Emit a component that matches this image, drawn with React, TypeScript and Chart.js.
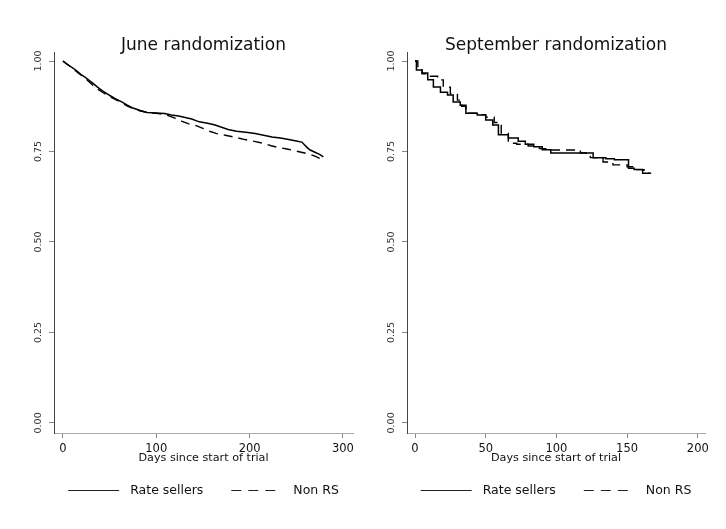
import React, { useEffect, useRef } from "react";
import { Chart, registerables } from "chart.js";

Chart.register(...registerables);

// ---------- DATA ----------
const panelTitles = ["June randomization", "September randomization"];
const seriesNames = ["Rate sellers", "Non RS"];
const xAxisTitle = "Days since start of trial";

const yTicks = [0, 0.25, 0.5, 0.75, 1];
const yTickLabels = ["0.00", "0.25", "0.50", "0.75", "1.00"];

const juneXTicks = [0, 100, 200, 300];
const juneXTickLabels = ["0", "100", "200", "300"];
const sepXTicks = [0, 50, 100, 150, 200];
const sepXTickLabels = ["0", "50", "100", "150", "200"];

// June randomization – Rate sellers (Kaplan–Meier survival)
const juneRSDays = [0, 3, 7, 11, 15, 19, 24, 28, 33, 37, 42, 47, 52, 57, 63, 69, 75, 82, 90, 109, 116, 124, 131, 138, 146, 155, 163, 170, 177, 186, 196, 206, 215, 224, 233, 242, 250, 256, 259, 262, 265, 270, 275, 279];
const juneRSSurv = [1.0, 0.994, 0.987, 0.98, 0.972, 0.963, 0.955, 0.947, 0.937, 0.928, 0.918, 0.91, 0.902, 0.895, 0.887, 0.878, 0.87, 0.864, 0.858, 0.855, 0.851, 0.848, 0.844, 0.84, 0.832, 0.828, 0.823, 0.817, 0.811, 0.806, 0.803, 0.8, 0.795, 0.79, 0.787, 0.783, 0.779, 0.776, 0.768, 0.76, 0.754, 0.748, 0.742, 0.735];

// June randomization – Non RS
const juneNonDays = [0, 4, 8, 12, 17, 22, 27, 32, 38, 44, 50, 56, 62, 68, 75, 83, 92, 102, 112, 120, 127, 134, 142, 150, 157, 164, 174, 185, 195, 205, 214, 223, 231, 240, 250, 259, 265, 270, 275, 279];
const juneNonSurv = [1.0, 0.992, 0.984, 0.976, 0.966, 0.956, 0.945, 0.933, 0.921, 0.911, 0.902, 0.894, 0.886, 0.877, 0.869, 0.862, 0.857, 0.855, 0.85, 0.842, 0.834, 0.827, 0.822, 0.814, 0.806, 0.8, 0.795, 0.789, 0.783, 0.778, 0.773, 0.766, 0.761, 0.757, 0.751, 0.746, 0.742, 0.737, 0.731, 0.725];

// September randomization – Rate sellers
const sepRSDays = [0, 1, 5, 9, 13, 18, 23, 27, 32, 36, 44, 50, 55, 59, 66, 73, 78, 84, 90, 96, 126, 135, 141, 151, 155, 161, 167];
const sepRSSurv = [1.0, 0.975, 0.967, 0.948, 0.928, 0.914, 0.906, 0.887, 0.878, 0.856, 0.851, 0.837, 0.823, 0.796, 0.787, 0.778, 0.77, 0.763, 0.755, 0.746, 0.733, 0.73, 0.727, 0.704, 0.7, 0.69, 0.69];

// September randomization – Non RS
const sepNonDays = [0, 2, 5, 10, 16, 20, 25, 30, 33, 36, 44, 50, 56, 61, 66, 72, 80, 88, 94, 117, 124, 133, 140, 150, 157, 162, 166];
const sepNonSurv = [1.0, 0.985, 0.965, 0.958, 0.948, 0.928, 0.91, 0.892, 0.875, 0.856, 0.852, 0.845, 0.83, 0.8, 0.773, 0.77, 0.765, 0.758, 0.754, 0.746, 0.733, 0.721, 0.713, 0.708, 0.7, 0.69, 0.69];

// ---------- STYLE ----------
const FONT = '"DejaVu Sans", "Liberation Sans", sans-serif';
const CANVAS_W = 363;
const CANVAS_H = 529;

type PanelProps = {
  left: number;
  title: string;
  rsDays: number[];
  rsSurv: number[];
  nonDays: number[];
  nonSurv: number[];
  xTicks: number[];
  xTickLabels: string[];
  xMin: number;
  xMax: number;
  yAxisWidth: number;
  padRight: number;
  stepped: boolean;
};

function Panel(p: PanelProps) {
  const ref = useRef<HTMLCanvasElement | null>(null);

  useEffect(() => {
    if (!ref.current) return;

    const decor = {
      id: "decor",
      afterDraw(chart: any) {
        const ctx = chart.ctx as CanvasRenderingContext2D;
        const ca = chart.chartArea;
        const cx = (ca.left + ca.right) / 2;
        ctx.save();
        ctx.fillStyle = "#111";
        ctx.font = `17px ${FONT}`;
        ctx.textAlign = "center";
        ctx.textBaseline = "alphabetic";
        ctx.fillText(p.title, cx, 50);

        // legend
        ctx.font = `12.5px ${FONT}`;
        const ds = chart.data.datasets;
        const widths = ds.map((d: any) => ctx.measureText(d.label).width);
        const lineLen = 51;
        const gapText = 11;
        const gapItem = 28;
        const total = lineLen * 2 + gapText * 2 + widths[0] + widths[1] + gapItem;
        let x = cx - total / 2;
        const ly = 490.5;
        ds.forEach((d: any, i: number) => {
          ctx.strokeStyle = "#222";
          ctx.lineWidth = 1;
          ctx.setLineDash(i === 1 ? [10, 7] : []);
          ctx.beginPath();
          ctx.moveTo(x, ly);
          ctx.lineTo(x + lineLen, ly);
          ctx.stroke();
          x += lineLen + gapText;
          ctx.setLineDash([]);
          ctx.textAlign = "left";
          ctx.textBaseline = "middle";
          ctx.fillStyle = "#111";
          ctx.fillText(d.label, x, ly);
          x += widths[i] + gapItem;
        });
        ctx.restore();
      },
    };

    const chart = new Chart(ref.current, {
      type: "line",
      data: {
        datasets: [
          {
            label: seriesNames[0],
            data: p.rsDays.map((d, i) => ({ x: d, y: p.rsSurv[i] })),
            borderColor: "#000",
            borderWidth: 1.5,
            stepped: p.stepped,
            tension: 0,
            pointRadius: 0,
            fill: false,
          },
          {
            label: seriesNames[1],
            data: p.nonDays.map((d, i) => ({ x: d, y: p.nonSurv[i] })),
            borderColor: "#000",
            borderWidth: 1.4,
            borderDash: [9, 6],
            stepped: p.stepped,
            tension: 0,
            pointRadius: 0,
            fill: false,
          },
        ],
      },
      options: {
        responsive: false,
        animation: false,
        devicePixelRatio: 1,
        layout: { padding: { top: 52, right: p.padRight, bottom: 64, left: 0 } },
        plugins: {
          legend: { display: false },
          title: { display: false },
          tooltip: { enabled: false },
        },
        scales: {
          x: {
            type: "linear",
            min: p.xMin,
            max: p.xMax,
            afterBuildTicks: (s: any) => {
              s.ticks = p.xTicks.map((v) => ({ value: v }));
            },
            afterFit: (s: any) => {
              s.height = 32;
            },
            ticks: {
              callback: (_v: any, i: number) => p.xTickLabels[i],
              font: { family: FONT, size: 11.5 },
              color: "#111",
              padding: 4,
              minRotation: 0,
              maxRotation: 0,
              autoSkip: false,
            },
            grid: {
              drawOnChartArea: false,
              drawTicks: true,
              tickLength: 5,
              color: "#888",
              lineWidth: 1,
            },
            border: { display: true, color: "#aaa", width: 1 },
            title: {
              display: true,
              text: xAxisTitle,
              font: { family: FONT, size: 11.2 },
              color: "#111",
              padding: { top: 0, bottom: 0 },
            },
          },
          y: {
            type: "linear",
            min: -0.028,
            max: 1.025,
            afterBuildTicks: (s: any) => {
              s.ticks = yTicks.map((v) => ({ value: v }));
            },
            afterFit: (s: any) => {
              s.width = p.yAxisWidth;
            },
            ticks: {
              callback: (_v: any, i: number) => yTickLabels[i],
              font: { family: FONT, size: 9.5 },
              color: "#333",
              padding: 0,
              minRotation: 90,
              maxRotation: 90,
              crossAlign: "center",
              autoSkip: false,
            },
            grid: {
              drawOnChartArea: false,
              drawTicks: true,
              tickLength: 5,
              color: "#888",
              lineWidth: 1,
            },
            border: { display: true, color: "#444", width: 1 },
          },
        },
      } as any,
      plugins: [decor],
    });

    return () => chart.destroy();
  }, []);

  return (
    <canvas
      ref={ref}
      width={CANVAS_W}
      height={CANVAS_H}
      style={{
        position: "absolute",
        left: p.left,
        top: 0,
        width: CANVAS_W,
        height: CANVAS_H,
        display: "block",
      }}
    />
  );
}

export default function App() {
  return (
    <div
      style={{
        position: "absolute",
        left: 0,
        top: 0,
        width: 726,
        height: 529,
        background: "#fff",
        overflow: "hidden",
      }}
    >
      <Panel
        left={0}
        title={panelTitles[0]}
        rsDays={juneRSDays}
        rsSurv={juneRSSurv}
        nonDays={juneNonDays}
        nonSurv={juneNonSurv}
        xTicks={juneXTicks}
        xTickLabels={juneXTickLabels}
        xMin={-9.6}
        xMax={310.8}
        yAxisWidth={54}
        padRight={10}
        stepped={false}
      />
      <Panel
        left={363}
        title={panelTitles[1]}
        rsDays={sepRSDays}
        rsSurv={sepRSSurv}
        nonDays={sepNonDays}
        nonSurv={sepNonSurv}
        xTicks={sepXTicks}
        xTickLabels={sepXTickLabels}
        xMin={-5.66}
        xMax={205.1}
        yAxisWidth={44}
        padRight={21}
        stepped={true}
      />
    </div>
  );
}
